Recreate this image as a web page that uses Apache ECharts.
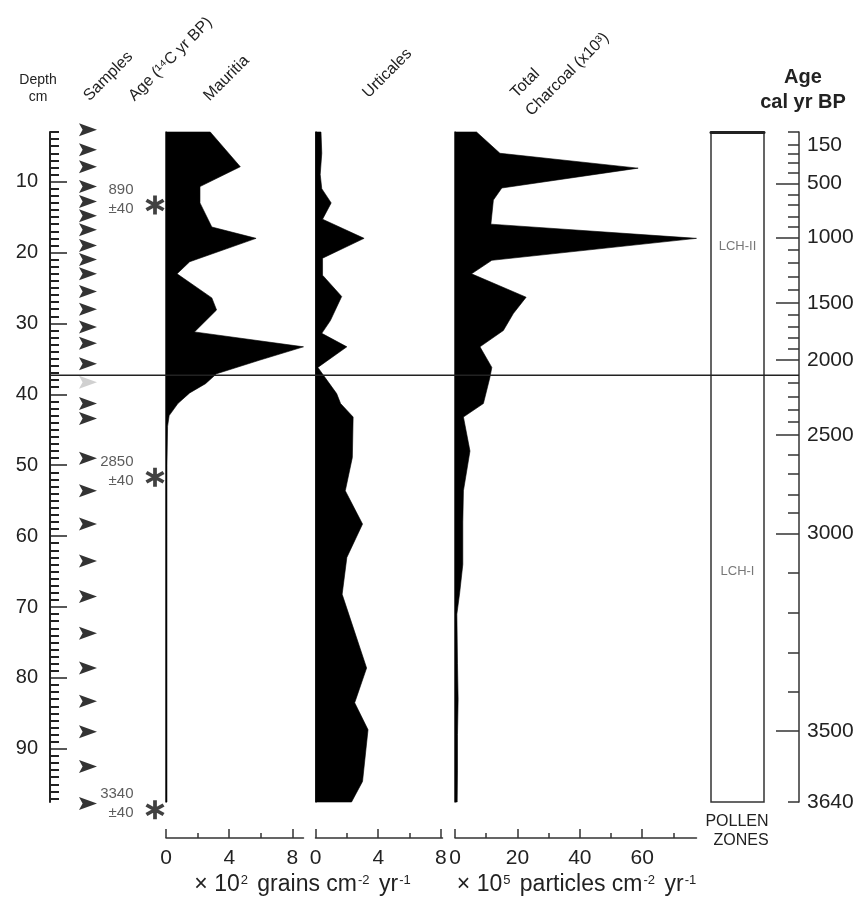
<!DOCTYPE html>
<html><head><meta charset="utf-8">
<script src="https://cdn.jsdelivr.net/npm/echarts@6/dist/echarts.min.js"></script>
<style>html,body{margin:0;padding:0;background:#fff}#c{width:861px;height:899px}</style>
</head><body><div id="c"></div>
<script>
// ---------------- DATA ----------------
const depthMin = 3, depthMax = 97.5;
const depthLabelTicks = [10, 20, 30, 40, 50, 60, 70, 80, 90];

const sampleDepths = [2.7, 5.5, 7.9, 10.7, 12.8, 14.8, 16.8, 19.0, 21.0, 23.0, 25.5, 28.0, 30.5, 32.8, 35.7,
  41.3, 43.4, 49.0, 53.6, 58.3, 63.5, 68.5, 73.7, 78.6, 83.3, 87.6, 92.5, 97.7];
const greySampleDepths = [38.3];

const mauritiaDepths = [3, 7.9, 10.7, 13, 16.4, 18, 21.3, 23, 26.4, 28.1, 31.2, 33.3, 35.2, 37.1, 38.5, 39.8, 41.3, 43, 44.5, 50, 60, 70, 80, 90, 97.5];
const mauritiaValues = [2.8, 4.7, 2.15, 2.15, 2.9, 5.7, 1.5, 0.7, 2.9, 3.2, 1.8, 8.7, 5.9, 3.2, 2.5, 1.5, 0.75, 0.2, 0.1, 0.06, 0.06, 0.06, 0.06, 0.06, 0.06];

const urticalesDepths = [3, 6, 9, 11, 13, 15.3, 18, 20.8, 23.2, 26.2, 29.6, 31.4, 33.3, 36.2, 37.6, 39.9, 41.3, 43.2, 48.9, 53.6, 58.3, 63, 68.2, 78.6, 83.5, 87.3, 94.6, 97.5];
const urticalesValues = [0.35, 0.4, 0.3, 0.4, 1.0, 0.45, 3.1, 0.45, 0.45, 1.67, 0.95, 0.4, 2.0, 0.15, 0.6, 1.35, 1.6, 2.4, 2.35, 1.9, 3.0, 2.0, 1.7, 3.26, 2.5, 3.35, 3.0, 2.3];

const charcoalDepths = [3, 6, 8.1, 10.9, 12.6, 16, 18, 21.1, 23, 26.3, 28.6, 31, 33.3, 36.2, 37.6, 41.3, 43.2, 48, 53.6, 58, 64, 68, 71, 78, 83, 88, 93, 97.5];
const charcoalValues = [6.9, 14.4, 58.7, 15, 12.3, 11.5, 77.4, 11.8, 5.3, 22.8, 18.7, 15.5, 8.0, 11.8, 11.2, 9.1, 2.7, 4.8, 2.7, 2.5, 2.5, 1.5, 0.6, 0.8, 1.0, 0.8, 0.8, 0.7];

const ageLabels = ['150', '500', '1000', '1500', '2000', '2500', '3000', '3500', '3640'];
const ageLabelDepths = [4.8, 10.24, 17.85, 27.1, 35.15, 45.7, 59.6, 87.5, 97.5];
const ageMajorTickDepths = [10.24, 17.85, 27.1, 35.15, 45.7, 59.6, 87.5];
const ageMinorTickDepths = [3, 4.8, 6.0, 7.4, 8.8, 11.9, 13.3, 14.9, 16.4, 19.6, 21.5, 23.45, 25.3, 28.8, 30.5, 32.05, 33.6,
  38.4, 40.4, 42.2, 43.9, 48.5, 51.2, 54.1, 56.7, 65.1, 70.8, 76.5, 82.0, 97.5];

const zoneBoundaryDepths = [37.3];
const zoneNames = ['LCH-II', 'LCH-I'];
const zoneLabelDepths = [19.2, 65];

const dateAges = ['890', '2850', '3340'];
const dateErrors = ['±40', '±40', '±40'];
const dateDepths = [13.3, 51.7, 98.6];

const mauritiaMajorTicks = [0, 4, 8], mauritiaMinorTicks = [2, 6];
const urticalesMajorTicks = [0, 4, 8], urticalesMinorTicks = [2, 6];
const charcoalMajorTicks = [0, 20, 40, 60], charcoalMinorTicks = [10, 30, 50, 70];

// ---------------- LAYOUT ----------------
const TOP = 132, BOTTOM = 97;
const FONT = 'Liberation Sans, Arial, sans-serif';
const grids = [
  {left: 50, width: 28},     // 0 depth axis
  {left: 78, width: 20},     // 1 samples
  {left: 100, width: 55},    // 2 dates
  {left: 166, width: 137.5}, // 3 Mauritia
  {left: 315.5, width: 127}, // 4 Urticales
  {left: 455, width: 241.5}, // 5 Charcoal
  {left: 711, width: 53, show: true, borderColor: '#333', borderWidth: 1.5}, // 6 zones
  {left: 788, width: 11},    // 7 age axis
  {left: 50, width: 749}     // 8 boundary line
].map(g => Object.assign({top: TOP, bottom: BOTTOM, outerBoundsMode: 'none', containLabel: false}, g));

const hiddenX = gi => ({gridIndex: gi, type: 'value', min: 0, max: 1, show: false});
const hiddenY = gi => ({gridIndex: gi, type: 'value', min: depthMin, max: depthMax, inverse: true, show: false});

function bottomAxes(gi, max, major, minor) {
  const base = {gridIndex: gi, type: 'value', min: 0, max: max, position: 'bottom', offset: 36, splitLine: {show: false}};
  return [
    Object.assign({}, base, {
      axisLine: {show: true, onZero: false, lineStyle: {color: '#333', width: 1.5}},
      axisTick: {show: true, inside: true, length: 9, customValues: major, lineStyle: {color: '#333', width: 1.5}},
      axisLabel: {show: true, customValues: major, fontSize: 21, color: '#222', margin: 10, fontFamily: FONT}
    }),
    Object.assign({}, base, {
      axisLine: {show: false, onZero: false},
      axisTick: {show: true, inside: true, length: 5, customValues: minor, lineStyle: {color: '#333', width: 1.5}},
      axisLabel: {show: false}
    })
  ];
}
function panelY(gi) {
  return {gridIndex: gi, type: 'value', min: depthMin, max: depthMax, inverse: true, position: 'left',
    axisLine: {show: true, onZero: false, lineStyle: {color: '#333', width: 1.5}},
    axisTick: {show: false}, axisLabel: {show: false}, splitLine: {show: false}};
}

const xAxes = [
  hiddenX(0), hiddenX(1), hiddenX(2),                                  // 0,1,2
  ...bottomAxes(3, 8.7, mauritiaMajorTicks, mauritiaMinorTicks),       // 3,4
  ...bottomAxes(4, 8.1, urticalesMajorTicks, urticalesMinorTicks),     // 5,6
  ...bottomAxes(5, 77.4, charcoalMajorTicks, charcoalMinorTicks),      // 7,8
  {gridIndex: 6, type: 'value', min: 0, max: 1, position: 'top',       // 9
    axisLine: {show: true, onZero: false, lineStyle: {color: '#222', width: 3}}, axisTick: {show: false}, axisLabel: {show: false}, splitLine: {show: false}},
  hiddenX(7), hiddenX(8)                                               // 10,11
];

const depthMinorTicks = [];
for (let d = 3; d <= 97; d++) if (d % 10 !== 0) depthMinorTicks.push(d);

const yAxes = [
  {gridIndex: 0, type: 'value', min: depthMin, max: depthMax, inverse: true, position: 'left',     // 0
    axisLine: {show: true, onZero: false, lineStyle: {color: '#222', width: 2}},
    axisTick: {show: true, inside: true, length: 17, customValues: depthLabelTicks, lineStyle: {color: '#222', width: 1.5}},
    axisLabel: {show: true, customValues: depthLabelTicks, fontSize: 20, color: '#222', margin: 12, fontFamily: FONT},
    splitLine: {show: false}},
  {gridIndex: 0, type: 'value', min: depthMin, max: depthMax, inverse: true, position: 'left',     // 1
    axisLine: {show: false, onZero: false},
    axisTick: {show: true, inside: true, length: 9, customValues: depthMinorTicks, lineStyle: {color: '#222', width: 2}},
    axisLabel: {show: false}, splitLine: {show: false}},
  hiddenY(1), hiddenY(2),                      // 2,3
  panelY(3), panelY(4), panelY(5),             // 4,5,6
  hiddenY(6),                                  // 7
  {gridIndex: 7, type: 'value', min: depthMin, max: depthMax, inverse: true, position: 'right',    // 8
    axisLine: {show: true, onZero: false, lineStyle: {color: '#333', width: 1.5}},
    axisTick: {show: true, inside: true, length: 23, customValues: ageMajorTickDepths, lineStyle: {color: '#333', width: 1.5}},
    axisLabel: {show: true, customValues: ageLabelDepths, fontSize: 21, color: '#222', margin: 8, fontFamily: FONT,
      formatter: v => { const i = ageLabelDepths.findIndex(d => Math.abs(d - v) < 1e-6); return i >= 0 ? ageLabels[i] : ''; }},
    splitLine: {show: false}},
  {gridIndex: 7, type: 'value', min: depthMin, max: depthMax, inverse: true, position: 'right',    // 9
    axisLine: {show: false, onZero: false},
    axisTick: {show: true, inside: true, length: 11, customValues: ageMinorTickDepths, lineStyle: {color: '#333', width: 1.5}},
    axisLabel: {show: false}, splitLine: {show: false}},
  hiddenY(8)                                   // 10
];

function profile(xi, yi, depths, values) {
  return {
    type: 'custom', xAxisIndex: xi, yAxisIndex: yi, silent: true, clip: false,
    data: depths.map((d, i) => [values[i], d]),
    encode: {x: 0, y: 1},
    renderItem: (params, api) => {
      if (params.dataIndex !== 0) return null;
      const pts = [api.coord([0, depths[0]])];
      for (let i = 0; i < depths.length; i++) pts.push(api.coord([values[i], depths[i]]));
      pts.push(api.coord([0, depths[depths.length - 1]]));
      return {type: 'polygon', shape: {points: pts}, style: {fill: '#000', stroke: '#000', lineWidth: 0.6}};
    }
  };
}

function asteriskPath() {
  const L = 10, w = 1.9; let p = '';
  [90, 30, -30].forEach(a => {
    const r = a * Math.PI / 180, c = Math.cos(r), s = Math.sin(r);
    const corners = [[-L, -w], [L, -w], [L, w], [-L, w]].map(([x, y]) => [x * c - y * s, x * s + y * c]);
    p += 'M' + corners.map(q => q[0].toFixed(2) + ',' + q[1].toFixed(2)).join('L') + 'Z';
  });
  return 'path://' + p;
}
const arrowHead = 'path://M0,0L20,7L0,14L4,7Z';

const series = [
  profile(3, 4, mauritiaDepths, mauritiaValues),
  profile(5, 5, urticalesDepths, urticalesValues),
  profile(7, 6, charcoalDepths, charcoalValues),
  {type: 'scatter', xAxisIndex: 1, yAxisIndex: 2, silent: true, clip: false, symbol: arrowHead, symbolSize: [18, 13],
    itemStyle: {color: '#000'}, data: sampleDepths.map(d => [0.5, d])},
  {type: 'scatter', xAxisIndex: 1, yAxisIndex: 2, silent: true, clip: false, symbol: arrowHead, symbolSize: [18, 13],
    itemStyle: {color: '#c4c4c4'}, data: greySampleDepths.map(d => [0.5, d])},
  {type: 'scatter', xAxisIndex: 2, yAxisIndex: 3, silent: true, clip: false, symbol: asteriskPath(), symbolSize: [19, 19],
    itemStyle: {color: '#111'}, data: dateDepths.map(d => [1, d]),
    label: {show: true, position: 'left', distance: 12, offset: [0, -6], fontSize: 15, lineHeight: 19, color: '#333', fontFamily: FONT,
      formatter: p => dateAges[p.dataIndex] + '\n' + dateErrors[p.dataIndex]}},
  {type: 'scatter', xAxisIndex: 9, yAxisIndex: 7, silent: true, symbolSize: 1, itemStyle: {color: 'rgba(0,0,0,0)'},
    data: zoneLabelDepths.map(d => [0.5, d]),
    label: {show: true, position: 'inside', fontSize: 13, color: '#555', fontFamily: FONT, formatter: p => zoneNames[p.dataIndex]}},
  {type: 'line', xAxisIndex: 11, yAxisIndex: 10, silent: true, symbol: 'none', lineStyle: {color: '#222', width: 1.5},
    data: [[0, zoneBoundaryDepths[0]], [1, zoneBoundaryDepths[0]]]}
];

const txt = (x, y, text, opts) => Object.assign({type: 'text', x: x, y: y, silent: true,
  style: Object.assign({text: text, font: '16px ' + FONT, fill: '#222', textAlign: 'left', textVerticalAlign: 'bottom'}, opts || {})});
const ROT = Math.PI / 4;
const unitRich = {n: {fontSize: 23, fontFamily: FONT, color: '#222'}, s: {fontSize: 13, fontFamily: FONT, color: '#222', verticalAlign: 'top', padding: [0, 3, 0, 1]}};
const graphics = [
  txt(38, 80, 'Depth', {textAlign: 'center', textVerticalAlign: 'middle', font: '14px ' + FONT}),
  txt(38, 97, 'cm', {textAlign: 'center', textVerticalAlign: 'middle', font: '14px ' + FONT}),
  Object.assign(txt(92, 104, 'Samples'), {rotation: ROT}),
  Object.assign(txt(137, 104, 'Age (¹⁴C yr BP)'), {rotation: ROT}),
  Object.assign(txt(212, 104, 'Mauritia'), {rotation: ROT}),
  Object.assign(txt(371, 101, 'Urticales'), {rotation: ROT}),
  Object.assign(txt(519, 101, 'Total'), {rotation: ROT}),
  Object.assign(txt(534, 119, 'Charcoal (x10³)'), {rotation: ROT}),
  txt(803, 77, 'Age', {textAlign: 'center', textVerticalAlign: 'middle', font: 'bold 20px ' + FONT}),
  txt(803, 102, 'cal yr BP', {textAlign: 'center', textVerticalAlign: 'middle', font: 'bold 20px ' + FONT}),
  txt(737, 822, 'POLLEN', {textAlign: 'center', textVerticalAlign: 'middle', font: '16px ' + FONT}),
  txt(741, 841, 'ZONES', {textAlign: 'center', textVerticalAlign: 'middle', font: '16px ' + FONT}),
  txt(304, 885, '{n|× 10}{s|2}{n| grains cm}{s|-2}{n| yr}{s|-1}', {textAlign: 'center', textVerticalAlign: 'middle', rich: unitRich}),
  txt(578, 885, '{n|× 10}{s|5}{n| particles cm}{s|-2}{n| yr}{s|-1}', {textAlign: 'center', textVerticalAlign: 'middle', rich: unitRich})
];

const chart = echarts.init(document.getElementById('c'));
chart.setOption({
  animation: false,
  backgroundColor: '#fff',
  grid: grids,
  xAxis: xAxes,
  yAxis: yAxes,
  series: series,
  graphic: graphics
});
</script></body></html>
